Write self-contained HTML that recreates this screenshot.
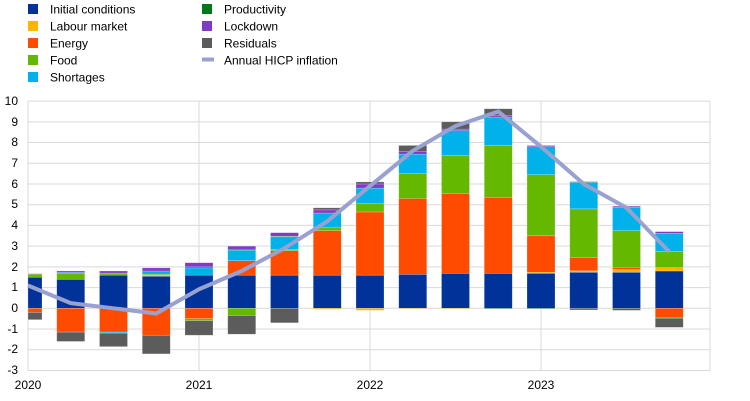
<!DOCTYPE html>
<html><head><meta charset="utf-8"><style>
body{margin:0;background:#fff;}
svg{display:block;font-family:"Liberation Sans",Arial,sans-serif;}
</style></head><body>
<svg id="c" width="750" height="401" viewBox="0 0 750 401">
<g font-size="12" fill="#000">
<rect x="28" y="4" width="10" height="10" fill="#003299"/><text x="50" y="13.5">Initial conditions</text>
<rect x="28" y="21" width="10" height="10" fill="#ffb400"/><text x="50" y="30.5">Labour market</text>
<rect x="28" y="38" width="10" height="10" fill="#ff4b00"/><text x="50" y="47.5">Energy</text>
<rect x="28" y="55" width="10" height="10" fill="#65b800"/><text x="50" y="64.5">Food</text>
<rect x="28" y="72" width="10" height="10" fill="#00b1ea"/><text x="50" y="81.5">Shortages</text>
<rect x="202" y="4" width="10" height="10" fill="#007816"/><text x="224" y="13.5">Productivity</text>
<rect x="202" y="21" width="10" height="10" fill="#8139c6"/><text x="224" y="30.5">Lockdown</text>
<rect x="202" y="38" width="10" height="10" fill="#5c5c5c"/><text x="224" y="47.5">Residuals</text>
<rect x="202" y="57.5" width="12" height="4" fill="#98a1d0"/><text x="224" y="64.5">Annual HICP inflation</text>
</g>
<g id="grid" stroke="#d9d9d9" stroke-width="1"></g>
<g font-size="12" fill="#000" text-anchor="end">
<text x="18" y="105">10</text><text x="18" y="126">9</text><text x="18" y="146">8</text><text x="18" y="167">7</text><text x="18" y="188">6</text><text x="18" y="208">5</text><text x="18" y="229">4</text><text x="18" y="250">3</text><text x="18" y="271">2</text><text x="18" y="291">1</text><text x="18" y="312">0</text><text x="18" y="333">-1</text><text x="18" y="353">-2</text><text x="18" y="374">-3</text>
</g>
<g font-size="12" fill="#000" text-anchor="middle">
<text x="28" y="389">2020</text><text x="199" y="389">2021</text><text x="370" y="389">2022</text><text x="541" y="389">2023</text>
</g>
<g id="bars"></g>
<polyline id="ln" fill="none" stroke="#98a1d0" stroke-width="4" stroke-linejoin="round"/>
</svg>
<script>
var Y0=308.3,U=20.72,X0=28,P=42.75,W=28;
function y(v){return Y0-v*U;}
var g=document.getElementById('grid'),s='';
for(var v=-3;v<=10;v++){s+='<line x1="28" x2="710" y1="'+y(v)+'" y2="'+y(v)+'"/>';}
[28,199,370,541,710].forEach(function(x){s+='<line x1="'+x+'" x2="'+x+'" y1="'+y(10)+'" y2="'+y(-3)+'"/>';});
g.innerHTML=s;
var C=['#003299','#ffb400','#ff4b00','#65b800','#00b1ea','#007816','#8139c6','#5c5c5c'];
var D=[
[1.5,0,-0.2,0.15,0,0,0.02,-0.35],
[1.4,0,-1.15,0.3,0.03,0,0.07,-0.45],
[1.6,0,-1.15,0.1,-0.05,0,0.1,-0.65],
[1.55,0.05,-1.3,0.05,0.15,0,0.15,-0.9],
[1.6,0,-0.5,-0.1,0.35,0.05,0.2,-0.7],
[1.6,0,0.7,-0.35,0.5,0.05,0.15,-0.9],
[1.6,0,1.18,0.05,0.62,0.03,0.17,-0.7],
[1.6,-0.05,2.15,0.15,0.7,0,0.15,0.1],
[1.6,-0.1,3.05,0.4,0.75,0,0.2,0.1],
[1.64,-0.03,3.66,1.22,0.92,0,0.13,0.29],
[1.69,-0.03,3.85,1.83,1.21,0,0.07,0.35],
[1.69,0,3.67,2.51,1.36,-0.03,0.07,0.33],
[1.69,0.05,1.76,2.95,1.35,-0.03,0.05,0.02],
[1.74,0.07,0.65,2.34,1.27,0.03,0.02,-0.08],
[1.74,0.13,0.1,1.78,1.13,0,0.05,-0.1],
[1.8,0.16,-0.45,0.79,0.87,-0.05,0.08,-0.42]];
var L=[1.1,0.25,0.0,-0.25,0.92,1.8,2.9,4.2,5.9,7.6,8.8,9.5,7.8,6.0,4.85,2.73];
var b='',pts=[];
D.forEach(function(d,i){
 var cx=X0+P*i,x1=cx-W/2,x2=cx+W/2; if(x1<28)x1=28;
 var pos=0,neg=0;
 d.forEach(function(v,k){
  if(v===0)return;
  var a,c;
  if(v>0){a=pos;c=pos+v;pos=c;}else{a=neg;c=neg+v;neg=c;}
  var yt=Math.min(y(a),y(c)),h=Math.abs(y(a)-y(c));
  b+='<rect x="'+x1+'" y="'+yt+'" width="'+(x2-x1)+'" height="'+h+'" fill="'+C[k]+'" stroke="#fff" stroke-opacity="0.35" stroke-width="0.6"/>';
 });
 pts.push(cx+','+y(L[i]));
});
document.getElementById('bars').innerHTML=b;
document.getElementById('ln').setAttribute('points',pts.join(' '));
</script>
</body></html>
